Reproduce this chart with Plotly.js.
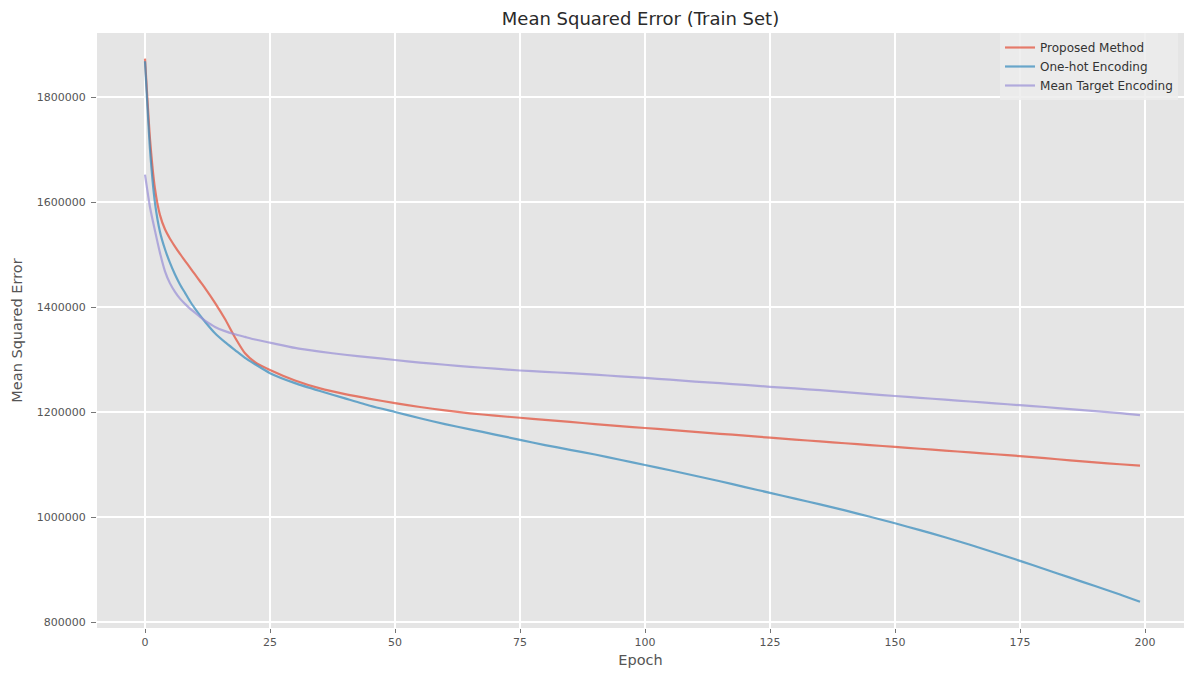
<!DOCTYPE html>
<html>
<head>
<meta charset="utf-8">
<script src="https://cdn.plot.ly/plotly-3.0.1.min.js"></script>
<style>html,body{margin:0;padding:0;background:#fff;}#chart{width:1184px;height:675px;}</style>
</head>
<body>
<div id="chart"></div>
<script>
const epochs = [0,1,2,3,4,5,6,7,8,9,10,11,12,14,16,18,20,22,25,30,35,40,45,50,55,60,65,70,75,80,85,90,95,100,105,110,115,120,125,130,135,140,145,150,155,160,165,170,175,180,185,190,195,199];

const proposed = [1873000,1720000,1625000,1575000,1548000,1530000,1515000,1501000,1488000,1475000,1462000,1449000,1436000,1408000,1377000,1342000,1312000,1295000,1280000,1260000,1245000,1234000,1225000,1217000,1209500,1203000,1197500,1193000,1189000,1185000,1181000,1177000,1173000,1169500,1166000,1162000,1158500,1155000,1151000,1147500,1144000,1140500,1137000,1133500,1130000,1126500,1123000,1119500,1116000,1112000,1108000,1104000,1100500,1098000];

const oneHot = [1868000,1700000,1598000,1543000,1510000,1484000,1462000,1443000,1427000,1411000,1397000,1384000,1372000,1350000,1333000,1318000,1303000,1291000,1274000,1255000,1240000,1226000,1212000,1200000,1188000,1177000,1167000,1157000,1147000,1137000,1128000,1119000,1109000,1099000,1089000,1078500,1068000,1057000,1046000,1035000,1024000,1012500,1000500,988000,975000,961500,947000,932000,916500,900500,884500,868500,852500,838500];

const meanTarget = [1652000,1590000,1545000,1503000,1468000,1445000,1429000,1416000,1406000,1397000,1389000,1381000,1374000,1362000,1354000,1348000,1343000,1338000,1332000,1322000,1315000,1309000,1304000,1299000,1294000,1290000,1286000,1282500,1279000,1276500,1274000,1271000,1268000,1265000,1261500,1258000,1255000,1251500,1248000,1245000,1241500,1238000,1234000,1230500,1227000,1223500,1220000,1216500,1213000,1209500,1205500,1201500,1198000,1194000];

const seriesNames = ['Proposed Method','One-hot Encoding','Mean Target Encoding'];
const seriesColors = ['rgba(226,74,51,0.7)','rgba(52,138,189,0.72)','rgba(152,142,213,0.7)'];
const seriesValues = [proposed, oneHot, meanTarget];

const xTicks = [0,25,50,75,100,125,150,175,200];
const yTicks = [800000,1000000,1200000,1400000,1600000,1800000];

const traces = seriesValues.map((vals, i) => ({
  x: epochs, y: vals, type: 'scatter', mode: 'lines', name: seriesNames[i],
  line: {color: seriesColors[i], width: 2.2, shape: 'spline', smoothing: 0.5}
}));

const font = 'DejaVu Sans, sans-serif';
const layout = {
  width: 1184, height: 675,
  margin: {l: 97, r: 0, t: 33, b: 47, pad: 0},
  paper_bgcolor: '#ffffff',
  plot_bgcolor: '#E5E5E5',
  font: {family: font, color: '#555555', size: 10},
  title: {text: 'Mean Squared Error (Train Set)', font: {family: font, size: 18, color: '#2a2a2a'}, x: 0.5, xref: 'paper', xanchor: 'center', y: 0.973, yref: 'container', yanchor: 'middle'},
  xaxis: {
    range: [-9.6, 207.8], tickvals: xTicks, ticktext: xTicks.map(String),
    showgrid: true, gridcolor: '#ffffff', gridwidth: 1.2, zeroline: false,
    ticks: 'outside', ticklen: 4, tickcolor: '#777777', tickwidth: 1,
    tickfont: {family: font, size: 11, color: '#555555'},
    title: {text: 'Epoch', font: {family: font, size: 14.5, color: '#555555'}, standoff: 6},
    showline: false
  },
  yaxis: {
    range: [788571, 1921905], tickvals: yTicks, ticktext: yTicks.map(String),
    showgrid: true, gridcolor: '#ffffff', gridwidth: 1.2, zeroline: false,
    ticks: 'outside', ticklen: 5, tickcolor: '#777777', tickwidth: 1,
    ticklabelstandoff: 3,
    tickfont: {family: font, size: 11, color: '#555555'},
    title: {text: 'Mean Squared Error', font: {family: font, size: 14.5, color: '#555555'}, standoff: 10},
    showline: false
  },
  showlegend: true,
  legend: {
    x: 0.9945, y: 1.0, xanchor: 'right', yanchor: 'top',
    bgcolor: 'rgba(236,236,236,0.85)', borderwidth: 0,
    font: {family: font, size: 12, color: '#333333'},
    tracegroupgap: 0, itemwidth: 30
  }
};

Plotly.newPlot('chart', traces, layout, {displayModeBar: false, staticPlot: true});
</script>
</body>
</html>
